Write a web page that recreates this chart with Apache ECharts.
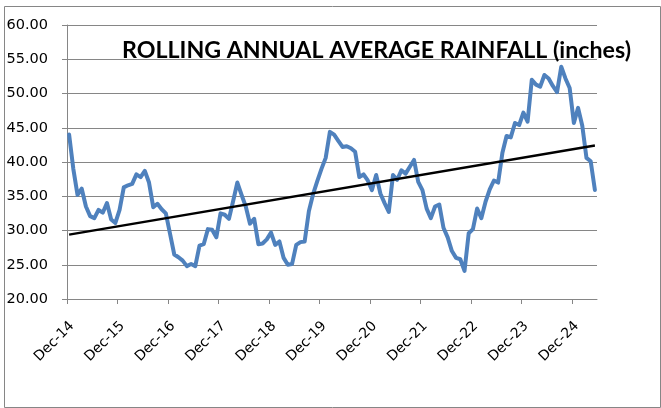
<!DOCTYPE html>
<html>
<head>
<meta charset="utf-8">
<script src="https://cdn.jsdelivr.net/npm/echarts@6.0.0/dist/echarts.min.js"></script>
<style>
html,body{margin:0;padding:0;background:#fff;}
#chart{width:661px;height:408px;}
</style>
</head>
<body>
<div id="chart"></div>
<script>
// Rolling annual average rainfall, monthly from Dec-14 to May-25
const rainfall = [
  44.0, 39.0, 35.2, 36.1, 33.5, 32.1, 31.8, 33.0, 32.6, 34.0, 31.6, 31.1,
  33.0, 36.3, 36.6, 36.8, 38.2, 37.8, 38.7, 37.0, 33.4, 33.9, 33.1, 32.5,
  29.5, 26.5, 26.1, 25.6, 24.8, 25.1, 24.8, 27.8, 28.0, 30.2, 30.1, 29.0,
  32.5, 32.3, 31.7, 34.3, 37.0, 35.2, 33.5, 31.0, 31.7, 28.0, 28.1, 28.7,
  29.7, 27.9, 28.4, 26.0, 25.0, 25.1, 27.9, 28.3, 28.4, 32.8, 35.3, 37.2,
  39.0, 40.6, 44.4, 44.0, 43.1, 42.2, 42.3, 42.0, 41.5, 37.8, 38.2, 37.3,
  35.9, 38.1, 35.4, 34.0, 32.7, 38.1, 37.4, 38.8, 38.3, 39.3, 40.3, 37.1,
  35.9, 33.2, 31.8, 33.5, 33.8, 30.4, 29.0, 27.0, 26.0, 25.8, 24.1, 29.6,
  30.2, 33.2, 31.8, 34.2, 36.0, 37.3, 37.0, 41.3, 43.8, 43.6, 45.7, 45.4,
  47.2, 45.9, 52.0, 51.3, 51.0, 52.7, 52.2, 51.1, 50.2, 53.9, 52.2, 50.8,
  45.7, 47.9, 45.3, 40.6, 40.1, 35.9
];
// Linear trend line end values
const trendValues = [29.4, 42.4];
// X tick labels (every 12 months)
const xLabels = ['Dec-14','Dec-15','Dec-16','Dec-17','Dec-18','Dec-19','Dec-20','Dec-21','Dec-22','Dec-23','Dec-24'];
const tickMonths = xLabels.map((_, i) => i * 12);
const yTicks = [20, 25, 30, 35, 40, 45, 50, 55, 60];

const rainData = rainfall.map((v, i) => [i + 0.5, v]);
const trendData = [[0.5, trendValues[0]], [rainfall.length - 0.5, trendValues[1]]];

const chart = echarts.init(document.getElementById('chart'), null, {renderer: 'canvas'});
const gray = '#868686';
chart.setOption({
  animation: false,
  backgroundColor: '#fff',
  title: {
    text: 'ROLLING ANNUAL AVERAGE RAINFALL (inches)',
    left: 117, top: 34,
    textStyle: {fontFamily: 'Lato', fontWeight: 'bold', fontSize: 23.2, color: '#000'}
  },
  graphic: [{
    type: 'rect', left: 2, top: 4, z: -1,
    shape: {width: 656, height: 401},
    style: {fill: 'none', stroke: gray, lineWidth: 1}
  }],
  grid: {left: 67, right: 64, top: 25, bottom: 109},
  xAxis: {
    type: 'value', min: 0, max: rainfall.length, interval: 12,
    axisLine: {show: true, onZero: false, lineStyle: {color: gray, width: 1}},
    axisTick: {show: true, length: 5, inside: false, customValues: tickMonths, lineStyle: {color: gray}},
    splitLine: {show: false},
    axisLabel: {
      customValues: tickMonths,
      rotate: 45, margin: 20, verticalAlign: 'top',
      fontFamily: 'DejaVu Sans', fontSize: 14, color: '#000',
      formatter: v => xLabels[Math.round(v / 12)] || ''
    }
  },
  yAxis: {
    type: 'value', min: yTicks[0], max: yTicks[yTicks.length - 1], interval: 5,
    axisLine: {show: true, lineStyle: {color: gray, width: 1}},
    axisTick: {show: true, length: 5, lineStyle: {color: gray}},
    splitLine: {show: true, lineStyle: {color: gray, width: 1}},
    axisLabel: {
      margin: 19, fontFamily: 'DejaVu Sans', fontSize: 14.5, color: '#000',
      formatter: v => v.toFixed(2)
    }
  },
  series: [
    {
      type: 'line', data: rainData, showSymbol: false, symbol: 'none',
      lineStyle: {color: '#4F81BD', width: 4, join: 'round', cap: 'round'},
      z: 2
    },
    {
      type: 'line', data: trendData, showSymbol: false, symbol: 'none',
      lineStyle: {color: '#000', width: 2.5},
      z: 3
    }
  ]
});
</script>
</body>
</html>
